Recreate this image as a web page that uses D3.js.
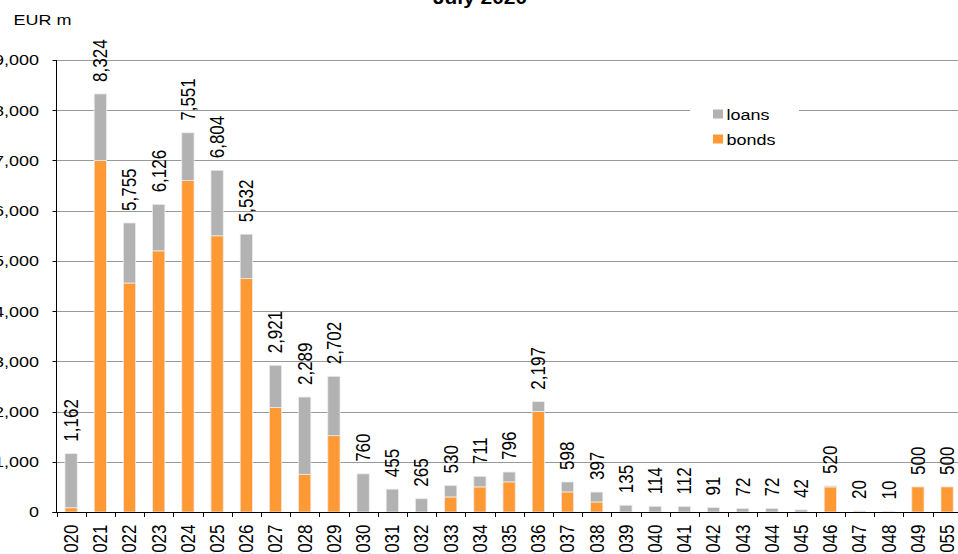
<!DOCTYPE html>
<html>
<head>
<meta charset="utf-8">
<script src="https://cdn.jsdelivr.net/npm/d3@7"></script>
<style>
    html, body { margin: 0; padding: 0; background: #ffffff; }
    svg { display: block; font-family: Arial, "Liberation Sans", sans-serif; }
</style>
</head>
<body>
<svg id="canvas" width="958" height="554"></svg>
<script>
// maturity years (leading "2" falls outside the picture, like the original)
var years = ['2020', '2021', '2022', '2023', '2024', '2025', '2026', '2027', '2028', '2029',
    '2030', '2031', '2032', '2033', '2034', '2035', '2036', '2037', '2038', '2039',
    '2040', '2041', '2042', '2043', '2044', '2045', '2046', '2047', '2048', '2049', '2055'];
var bonds = [85, 7000, 4560, 5200, 6600, 5500, 4650, 2080, 750, 1520,
    0, 0, 0, 300, 500, 600, 2000, 400, 200, 0,
    0, 0, 0, 0, 0, 0, 500, 0, 0, 500, 500];
var loans = [1077, 1324, 1195, 926, 951, 1304, 882, 841, 1539, 1182,
    760, 455, 265, 230, 211, 196, 197, 198, 197, 135,
    114, 112, 91, 72, 72, 42, 20, 20, 10, 0, 0];
var yTicks = [0, 1000, 2000, 3000, 4000, 5000, 6000, 7000, 8000, 9000];
var seriesNames = ['bonds', 'loans'];
var colors = { bonds: '#ff9933', loans: '#b2b2b2' };

(function() {
    var svg = d3.select('#canvas');
    var sx = 1.16;          // text in the picture is stretched sideways
    var fontH = 15.5;
    var fontR = 17;
    var left = 56.5, bottom = 512, top = 60;
    var step = 29.2;

    var rows = years.map(function(yr, i) {
        return { year: yr, bonds: bonds[i], loans: loans[i] };
    });

    var x = d3.scaleBand()
        .domain(years)
        .range([left, left + step * years.length])
        .paddingInner(0.58)
        .paddingOuter(0.29);

    var y = d3.scaleLinear()
        .domain([0, 9000])
        .range([bottom, top]);

    function stretched(px, py, rot) {
        return 'translate(' + px + ',' + py + ') scale(' + sx + ',1)' + (rot ? ' rotate(' + rot + ')' : '');
    }

    // title, mostly above the picture
    svg.append('text')
        .attr('transform', stretched(480, 4))
        .attr('text-anchor', 'middle')
        .attr('font-size', 18)
        .attr('font-weight', 'bold')
        .text('July 2020');

    svg.append('text')
        .attr('transform', stretched(13.5, 25))
        .attr('font-size', fontH)
        .text('EUR m');

    // dotted gridlines
    svg.append('g')
        .selectAll('line')
        .data(yTicks.filter(function(d) { return d > 0; }))
        .enter().append('line')
        .attr('x1', left)
        .attr('x2', 958)
        .attr('y1', function(d) { return Math.round(y(d)) + 0.5; })
        .attr('y2', function(d) { return Math.round(y(d)) + 0.5; })
        .attr('stroke', '#333333')
        .attr('stroke-width', 1)
        .attr('stroke-dasharray', '1,1');

    // legend box sits over the gridlines
    var legend = svg.append('g');
    legend.append('rect')
        .attr('x', 690).attr('y', 98)
        .attr('width', 109).attr('height', 54)
        .attr('fill', '#ffffff');
    ['loans', 'bonds'].forEach(function(name, i) {
        legend.append('rect')
            .attr('x', 713).attr('y', 109.5 + i * 25)
            .attr('width', 10).attr('height', 9)
            .attr('fill', colors[name]);
        legend.append('text')
            .attr('transform', stretched(726.5, 119.5 + i * 25))
            .attr('font-size', fontH)
            .text(name);
    });

    // stacked bars
    var stack = d3.stack().keys(seriesNames);
    var layers = stack(rows);

    svg.append('g')
        .selectAll('g')
        .data(layers)
        .enter().append('g')
        .attr('fill', function(d) { return colors[d.key]; })
        .selectAll('rect')
        .data(function(d) { return d.filter(function(p) { return p[1] - p[0] > 0; }); })
        .enter().append('rect')
        .attr('x', function(d) { return x(d.data.year); })
        .attr('width', x.bandwidth())
        .attr('y', function(d) { return y(d[1]); })
        .attr('height', function(d) { return y(d[0]) - y(d[1]); })
        .attr('stroke', '#ececec')
        .attr('stroke-width', 0.8);

    // value labels (totals)
    var fmt = d3.format(',');
    svg.append('g')
        .selectAll('text')
        .data(rows)
        .enter().append('text')
        .attr('transform', function(d) {
            return stretched(x(d.year) + x.bandwidth() / 2, y(d.bonds + d.loans) - 12, -90);
        })
        .attr('dy', '0.35em')
        .attr('font-size', fontR)
        .text(function(d) { return fmt(d.bonds + d.loans); });

    // y axis
    var yAxis = svg.append('g');
    yAxis.append('line')
        .attr('x1', left).attr('x2', left)
        .attr('y1', y(9000)).attr('y2', bottom)
        .attr('stroke', '#000000');
    yAxis.selectAll('line.tick')
        .data(yTicks)
        .enter().append('line')
        .attr('class', 'tick')
        .attr('x1', left - 4).attr('x2', left)
        .attr('y1', function(d) { return Math.round(y(d)) + 0.5; })
        .attr('y2', function(d) { return Math.round(y(d)) + 0.5; })
        .attr('stroke', '#000000');
    yAxis.selectAll('text')
        .data(yTicks)
        .enter().append('text')
        .attr('transform', function(d) { return stretched(39, y(d)); })
        .attr('dy', '0.35em')
        .attr('text-anchor', 'end')
        .attr('font-size', fontH)
        .text(function(d) { return fmt(d); });

    // x axis with ticks between categories
    var xAxis = svg.append('g');
    xAxis.append('line')
        .attr('x1', left - 4).attr('x2', 958)
        .attr('y1', bottom + 0.5).attr('y2', bottom + 0.5)
        .attr('stroke', '#000000');
    xAxis.selectAll('line.tick')
        .data(d3.range(years.length + 1))
        .enter().append('line')
        .attr('class', 'tick')
        .attr('x1', function(i) { return Math.round(x.range()[0] + i * x.step()) + 0.5; })
        .attr('x2', function(i) { return Math.round(x.range()[0] + i * x.step()) + 0.5; })
        .attr('y1', bottom).attr('y2', bottom + 5)
        .attr('stroke', '#000000');
    xAxis.selectAll('text')
        .data(years)
        .enter().append('text')
        .attr('transform', function(d) { return stretched(x(d) + x.bandwidth() / 2, 524.5, -90); })
        .attr('dy', '0.35em')
        .attr('text-anchor', 'end')
        .attr('font-size', fontR)
        .text(function(d) { return d; });
})();
</script>
</body>
</html>
